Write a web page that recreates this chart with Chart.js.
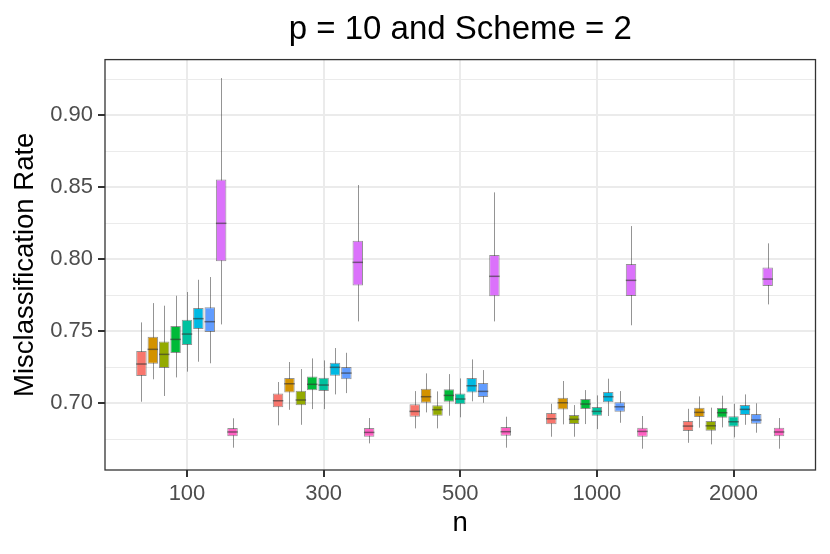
<!DOCTYPE html>
<html>
<head>
<meta charset="utf-8">
<script src="https://cdn.jsdelivr.net/npm/chart.js@4/dist/chart.umd.min.js"></script>
<style>
  html, body { margin: 0; padding: 0; background: #fff; }
  #wrap { width: 830px; height: 554px; }
</style>
</head>
<body>
<div id="wrap"><canvas id="chart"></canvas></div>
<script>
// n values on the x axis
const nLabels = ['100', '300', '500', '1000', '2000'];

// y ticks (major get labels, minor only grid lines)
const yTicks = [0.675, 0.70, 0.725, 0.75, 0.775, 0.80, 0.825, 0.85, 0.875, 0.90, 0.925];

// each row: [lower whisker, q1, median, q3, upper whisker] for n = 100, 300, 500, 1000, 2000
const series1 = [
    [0.7009, 0.7188, 0.7271, 0.7361, 0.7560],
    [0.6845, 0.6970, 0.7016, 0.7067, 0.7146],
    [0.6824, 0.6905, 0.6942, 0.6991, 0.7083],
    [0.6766, 0.6852, 0.6891, 0.6931, 0.6995],
    [0.6724, 0.6806, 0.6840, 0.6875, 0.6960]
];
const series2 = [
    [0.7165, 0.7273, 0.7373, 0.7460, 0.7694],
    [0.6953, 0.7074, 0.7134, 0.7174, 0.7285],
    [0.6935, 0.7002, 0.7044, 0.7099, 0.7206],
    [0.6852, 0.6956, 0.7002, 0.7037, 0.7153],
    [0.6829, 0.6903, 0.6935, 0.6968, 0.7046]
];
const series3 = [
    [0.7049, 0.7243, 0.7338, 0.7428, 0.7676],
    [0.6849, 0.6984, 0.7021, 0.7085, 0.7236],
    [0.6824, 0.6912, 0.6954, 0.6984, 0.7081],
    [0.6766, 0.6854, 0.6887, 0.6917, 0.6986],
    [0.6713, 0.6808, 0.6842, 0.6875, 0.6968]
];
const series4 = [
    [0.7178, 0.7347, 0.7442, 0.7535, 0.7745],
    [0.6958, 0.7088, 0.7130, 0.7185, 0.7310],
    [0.6912, 0.7009, 0.7053, 0.7095, 0.7201],
    [0.6854, 0.6958, 0.6993, 0.7028, 0.7090],
    [0.6831, 0.6898, 0.6933, 0.6965, 0.7051]
];
const series5 = [
    [0.7218, 0.7403, 0.7479, 0.7579, 0.7771],
    [0.6958, 0.7083, 0.7125, 0.7176, 0.7296],
    [0.6901, 0.6991, 0.7028, 0.7067, 0.7171],
    [0.6819, 0.6912, 0.6942, 0.6972, 0.7053],
    [0.6762, 0.6835, 0.6870, 0.6908, 0.6995]
];
const series6 = [
    [0.7287, 0.7514, 0.7586, 0.7660, 0.7856],
    [0.7060, 0.7190, 0.7248, 0.7280, 0.7382],
    [0.7012, 0.7074, 0.7120, 0.7174, 0.7303],
    [0.6910, 0.7005, 0.7044, 0.7076, 0.7169],
    [0.6849, 0.6917, 0.6956, 0.6986, 0.7060]
];
const series7 = [
    [0.7276, 0.7493, 0.7565, 0.7665, 0.7875],
    [0.7069, 0.7165, 0.7208, 0.7250, 0.7349],
    [0.7002, 0.7042, 0.7081, 0.7139, 0.7229],
    [0.6863, 0.6940, 0.6974, 0.7005, 0.7083],
    [0.6794, 0.6856, 0.6882, 0.6924, 0.6998]
];
const series8 = [
    [0.7546, 0.7984, 0.8248, 0.8553, 0.9257],
    [0.7567, 0.7817, 0.7977, 0.8127, 0.8514],
    [0.7567, 0.7741, 0.7880, 0.8028, 0.8463],
    [0.7540, 0.7743, 0.7852, 0.7965, 0.8229],
    [0.7685, 0.7813, 0.7861, 0.7942, 0.8109]
];
const series9 = [
    [0.6690, 0.6769, 0.6799, 0.6826, 0.6894],
    [0.6720, 0.6766, 0.6796, 0.6826, 0.6896],
    [0.6690, 0.6773, 0.6801, 0.6833, 0.6905],
    [0.6683, 0.6766, 0.6803, 0.6829, 0.6910],
    [0.6683, 0.6769, 0.6799, 0.6829, 0.6896]
];

const allSeries = [series1, series2, series3, series4, series5, series6, series7, series8, series9];
const colors = ['#F8766D', '#D39200', '#93AA00', '#00BA38', '#00C19F', '#00B9E3', '#619CFF', '#DB72FB', '#FF61C3'];

const lineColor = 'rgba(60, 60, 60, 0.55)';
const font = '"Liberation Sans", Arial, sans-serif';

const isMajor = v => Math.round(v * 1000) % 50 === 0;

// whiskers behind the boxes, medians on top, panel border last
const boxLines = {
    id: 'boxLines',
    beforeDatasetsDraw(chart) {
        const ctx = chart.ctx, y = chart.scales.y;
        ctx.save();
        ctx.strokeStyle = lineColor;
        ctx.lineWidth = 1;
        chart.data.datasets.forEach((ds, i) => {
            chart.getDatasetMeta(i).data.forEach((el, j) => {
                const s = ds.stats[j];
                const x = Math.round(el.x) + 0.5;
                ctx.beginPath();
                ctx.moveTo(x, y.getPixelForValue(s[0]));
                ctx.lineTo(x, y.getPixelForValue(s[4]));
                ctx.stroke();
            });
        });
        ctx.restore();
    },
    afterDatasetsDraw(chart) {
        const ctx = chart.ctx, y = chart.scales.y;
        ctx.save();
        ctx.strokeStyle = 'rgba(50, 50, 50, 0.6)';
        ctx.lineWidth = 1.5;
        chart.data.datasets.forEach((ds, i) => {
            chart.getDatasetMeta(i).data.forEach((el, j) => {
                const py = y.getPixelForValue(ds.stats[j][2]);
                ctx.beginPath();
                ctx.moveTo(el.x - el.width / 2, py);
                ctx.lineTo(el.x + el.width / 2, py);
                ctx.stroke();
            });
        });
        ctx.restore();
    },
    afterDraw(chart) {
        const ctx = chart.ctx, a = chart.chartArea;
        ctx.save();
        ctx.strokeStyle = '#333333';
        ctx.lineWidth = 1.3;
        ctx.strokeRect(a.left, a.top, a.right - a.left, a.bottom - a.top);
        ctx.restore();
    }
};

const datasets = allSeries.map((s, i) => ({
    label: 'series ' + (i + 1),
    data: s.map((row, j) => ({ x: j + 1, y: [row[1], row[3]] })),
    stats: s,
    backgroundColor: colors[i],
    borderColor: lineColor,
    borderWidth: 1,
    borderSkipped: false,
    categoryPercentage: 0.75,
    barPercentage: 0.92
}));

new Chart(document.getElementById('chart'), {
    type: 'bar',
    data: { datasets: datasets },
    options: {
        responsive: true,
        maintainAspectRatio: false,
        animation: false,
        devicePixelRatio: 1,
        layout: { padding: { left: 0, right: 14.5, top: 0, bottom: 0 } },
        plugins: {
            legend: { display: false },
            tooltip: { enabled: false },
            title: {
                display: true,
                text: 'p = 10 and Scheme = 2',
                fullSize: false,
                color: '#000',
                font: { family: font, size: 33, weight: 'normal' },
                padding: { top: 10, bottom: 10 }
            }
        },
        scales: {
            x: {
                type: 'linear',
                min: 0.4,
                max: 5.6,
                offset: false,
                afterBuildTicks: axis => { axis.ticks = nLabels.map((_, i) => ({ value: i + 1 })); },
                afterFit: axis => { axis.height = 84; },
                border: { display: false },
                grid: { offset: false, color: '#EBEBEB', lineWidth: 2, tickColor: '#333333', tickLength: 7 },
                ticks: {
                    autoSkip: false,
                    maxRotation: 0,
                    color: '#4D4D4D',
                    padding: 4,
                    font: { family: font, size: 22 },
                    callback: v => nLabels[Math.round(v) - 1]
                },
                title: {
                    display: true,
                    text: 'n',
                    color: '#000',
                    font: { family: font, size: 27.5 },
                    padding: { top: 0, bottom: 14 }
                }
            },
            y: {
                min: 0.6535,
                max: 0.9385,
                afterBuildTicks: axis => { axis.ticks = yTicks.map(v => ({ value: v })); },
                afterFit: axis => { axis.width = 105; },
                border: { display: false },
                grid: {
                    color: '#EBEBEB',
                    lineWidth: c => isMajor(c.tick.value) ? 2 : 1,
                    tickColor: c => isMajor(c.tick.value) ? '#333333' : 'rgba(0,0,0,0)',
                    tickLength: 7
                },
                ticks: {
                    autoSkip: false,
                    color: '#4D4D4D',
                    padding: 5,
                    font: { family: font, size: 22 },
                    callback: v => isMajor(v) ? v.toFixed(2) : ''
                },
                title: {
                    display: true,
                    text: 'Misclassification Rate',
                    color: '#000',
                    font: { family: font, size: 27.5 },
                    padding: { top: 9, bottom: 0 }
                }
            }
        }
    },
    plugins: [boxLines]
});
</script>
</body>
</html>
